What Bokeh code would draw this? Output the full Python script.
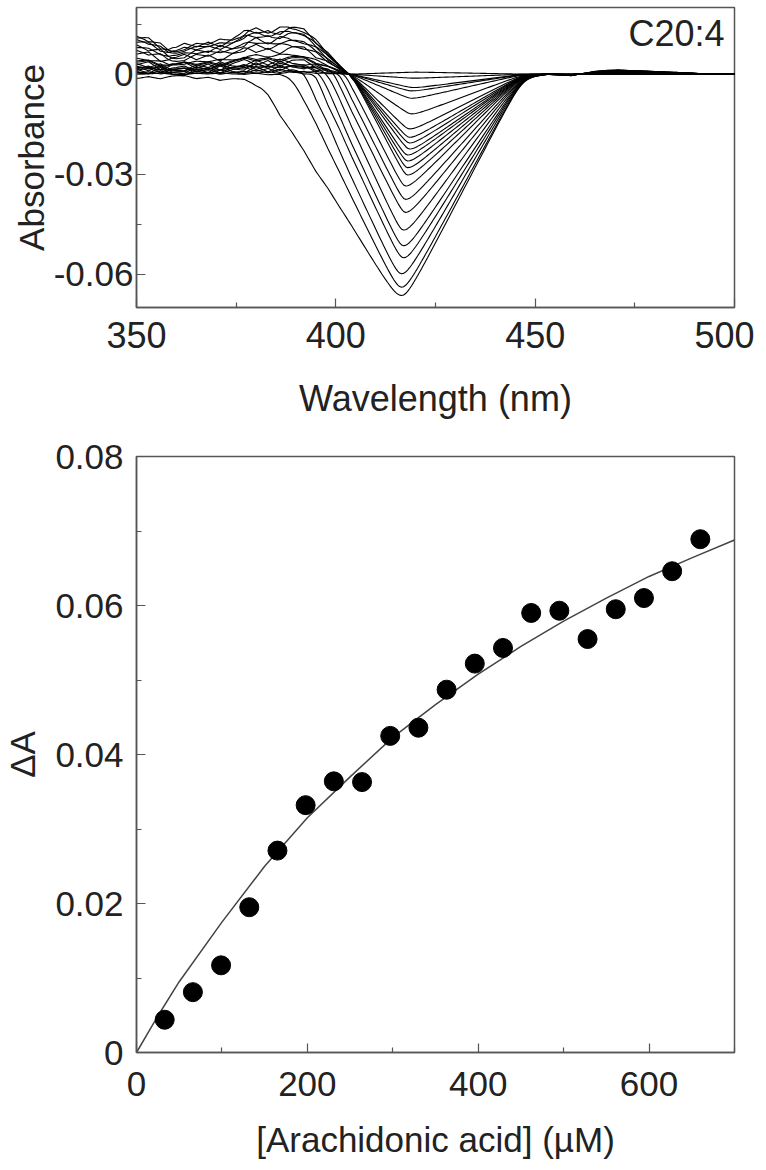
import numpy as np
from bokeh.plotting import figure
from bokeh.layouts import column
from bokeh.models import FixedTicker, CustomJSTickFormatter, Label, Range1d
from bokeh.embed import file_html
from bokeh.resources import INLINE

# ---------------- top panel: difference spectra ----------------
trough_depth = [-0.0006, 0.0012, 0.0040, 0.0050, 0.0072, 0.0119, 0.0164, 0.0189,
                0.0206, 0.0224, 0.0242, 0.0260, 0.0280, 0.0302, 0.0335, 0.0375,
                0.0414, 0.0467, 0.0514, 0.0550, 0.0598, 0.0638, 0.0663]
left_zero_nm = [404, 404, 404, 404, 404, 404, 404, 404, 404, 404, 404, 404, 404, 404,
                402.5, 401, 399.5, 398, 396, 394.5, 392, 389, 381]
trough_nm = [420, 419.5, 419.5, 419, 419, 419, 418.5, 418.5, 418.5, 418.5, 418, 418,
             418, 418, 417.5, 417.5, 417.5, 417, 417, 417, 416.5, 416.5, 416.5]
bump_height = [0.0005, 0.0010, 0.0020, 0.0030, 0.0045, 0.0060, 0.0075, 0.0090,
               0.0100, 0.0110, 0.0120, 0.0130, 0.0135, 0.0143, 0.0050, 0.0040,
               0.0035, 0.0030, 0.0025, 0.0020, 0.0015, 0.0005, -0.0015]
wiggle_weight = [0.3, -0.5, 0.8, -1.0, 0.6, -0.3, 1.0, -0.7, 0.4, -0.9, 0.7, -0.4,
                 0.9, -0.6, 0.5, -0.8, 1.0, -0.5, 0.3, -1.0, 0.6, -0.2, 0.4]
right_zero_nm = 447.0

# shape of the positive band (350-404 nm), normalised
bump_nm = [350, 352, 354, 356, 358, 360, 362, 364, 366, 368, 370, 372, 374, 376,
           378, 380, 382, 384, 386, 388, 390, 392, 394, 396, 398, 400, 402, 404, 500]
bump_shape = [0.80, 0.76, 0.70, 0.62, 0.52, 0.52, 0.58, 0.62, 0.64, 0.66, 0.68, 0.70,
              0.74, 0.82, 0.93, 0.95, 0.91, 0.90, 0.95, 1.00, 0.98, 0.93, 0.80, 0.63,
              0.45, 0.28, 0.12, 0.0, 0.0]
# noise pattern on the blue side
wiggle_nm = [350, 353, 356, 359, 362, 365, 368, 371, 374, 377, 380, 383, 386, 389,
             392, 395, 398, 401, 404, 500]
wiggle_shape = [0.0, 0.0012, -0.0008, 0.0010, 0.0016, -0.0004, 0.0008, -0.0012,
                0.0006, 0.0014, -0.0006, 0.0010, -0.0010, 0.0008, 0.0012, -0.0004,
                0.0006, 0.0, 0.0, 0.0]
# small tail beyond 447 nm (for the deepest spectrum)
tail_nm = [350, 447, 450, 453, 456, 459, 462, 465, 468, 471, 474, 477, 480, 484, 488,
           492, 496, 500]
tail_shape = [0, 0, 0.0002, 0.0004, 0.0001, -0.0002, 0.0004, 0.0010, 0.0013, 0.0014,
              0.0012, 0.0011, 0.0009, 0.0007, 0.0005, 0.0002, 0.0001, 0.0]

wl_ticks = [350, 400, 450, 500]
wl_minor = [375, 425, 475]
abs_ticks = [-0.06, -0.03, 0.0]
abs_minor = [-0.045, -0.015, 0.015]

# ---------------- bottom panel: titration ----------------
conc_uM = [33, 66, 99, 132, 165, 198, 231, 264, 297, 330, 363, 396, 429, 462, 495,
           528, 561, 594, 627, 660]
delta_A = [0.0044, 0.0081, 0.0117, 0.0195, 0.0271, 0.0332, 0.0364, 0.0363, 0.0425,
           0.0436, 0.0487, 0.0522, 0.0543, 0.0590, 0.0593, 0.0555, 0.0595, 0.0610,
           0.0646, 0.0689]
fit_conc = [0, 25, 50, 100, 150, 200, 250, 300, 350, 400, 450, 500, 550, 600, 650, 700]
fit_dA = [0, 0.0049, 0.0095, 0.0175, 0.0250, 0.0315, 0.0370, 0.0423, 0.0467, 0.0508,
          0.0545, 0.0579, 0.0610, 0.0639, 0.0664, 0.0688]

conc_ticks = [0, 200, 400, 600]
conc_minor = [100, 300, 500, 700]
dA_ticks = [0, 0.02, 0.04, 0.06, 0.08]
dA_minor = [0.01, 0.03, 0.05, 0.07]

FONT = "Liberation Sans"
TXT = "#222222"
FRAME = "#555555"

fmt = CustomJSTickFormatter(code="return Math.abs(tick) < 1e-9 ? '0' : tick.toFixed(2);")


def style(p, fs):
    p.outline_line_color = FRAME
    p.outline_line_width = 1.5
    p.xgrid.grid_line_color = None
    p.ygrid.grid_line_color = None
    p.background_fill_color = "white"
    p.border_fill_color = "white"
    for ax in p.axis:
        ax.axis_line_color = FRAME
        ax.axis_line_width = 1.5
        ax.major_tick_line_color = FRAME
        ax.minor_tick_line_color = FRAME
        ax.major_tick_line_width = 1.2
        ax.minor_tick_line_width = 1.2
        ax.major_tick_in = 9
        ax.major_tick_out = 0
        ax.minor_tick_in = 5
        ax.minor_tick_out = 0
        ax.major_label_text_font = FONT
        ax.major_label_text_font_size = fs
        ax.major_label_text_color = TXT
        ax.axis_label_text_font = FONT
        ax.axis_label_text_font_size = fs
        ax.axis_label_text_font_style = "normal"
        ax.axis_label_text_color = TXT


# ---- top figure ----
p1 = figure(frame_width=598, frame_height=300, min_border_left=122, min_border_right=28,
            min_border_top=7, min_border_bottom=122,
            x_range=Range1d(350, 500), y_range=Range1d(-0.07, 0.02),
            output_backend="svg", toolbar_location=None, tools="")
style(p1, "35px")
p1.xaxis.major_label_text_font_size = "36px"
p1.xaxis.axis_label_text_font_size = "36px"
p1.xaxis.ticker = FixedTicker(ticks=wl_ticks, minor_ticks=wl_minor)
p1.yaxis.ticker = FixedTicker(ticks=abs_ticks, minor_ticks=abs_minor)
p1.yaxis.formatter = fmt
p1.xaxis.axis_label = "Wavelength (nm)"
p1.yaxis.axis_label = "Absorbance"
p1.xaxis.major_label_standoff = 14
p1.xaxis.axis_label_standoff = 27
p1.yaxis.major_label_standoff = 3
p1.yaxis.axis_label_standoff = 0

wl = np.arange(350.0, 500.01, 0.5)
B = np.interp(wl, bump_nm, bump_shape)
W = np.interp(wl, wiggle_nm, wiggle_shape)
T = np.interp(wl, tail_nm, tail_shape)
dmax = max(trough_depth)
c = 0.06
v1 = np.sqrt(1 + c * c) - c
xs, ys = [], []
for d, L, m, h, w in zip(trough_depth, left_zero_nm, trough_nm, bump_height, wiggle_weight):
    u = np.where(wl <= m, (m - wl) / (m - L), (wl - m) / (right_zero_nm - m))
    f_lin = 1 - (np.sqrt(u * u + c * c) - c) / v1
    f = (f_lin + np.sqrt(f_lin * f_lin + 0.08 ** 2)) / 2
    y = h * B + w * W - d * f + (abs(d) / dmax) * T
    xs.append(wl.tolist())
    ys.append(y.tolist())
p1.multi_line(xs, ys, line_color="black", line_width=1.1)

p1.add_layout(Label(x=497.5, y=0.0184, text="C20:4", text_align="right",
                    text_baseline="top", text_font=FONT, text_font_size="36px",
                    text_color=TXT))

# ---- bottom figure ----
p2 = figure(frame_width=598, frame_height=596, min_border_left=122, min_border_right=28,
            min_border_top=27, min_border_bottom=106,
            x_range=Range1d(0, 700), y_range=Range1d(0, 0.08),
            output_backend="svg", toolbar_location=None, tools="")
style(p2, "35px")
p2.xaxis.ticker = FixedTicker(ticks=conc_ticks, minor_ticks=conc_minor)
p2.yaxis.ticker = FixedTicker(ticks=dA_ticks, minor_ticks=dA_minor)
p2.yaxis.formatter = fmt
p2.xaxis.axis_label = "[Arachidonic acid] (µM)"
p2.yaxis.axis_label = "ΔA"
p2.xaxis.major_label_standoff = 19
p2.xaxis.axis_label_standoff = 21
p2.yaxis.major_label_standoff = 13
p2.yaxis.axis_label_standoff = 10

p2.line(fit_conc, fit_dA, line_color="#444444", line_width=1.5)
p2.scatter(conc_uM, delta_A, size=19, fill_color="black", line_color="black")

layout = column(p1, p2)
open("out.html", "w").write(file_html(layout, INLINE))
